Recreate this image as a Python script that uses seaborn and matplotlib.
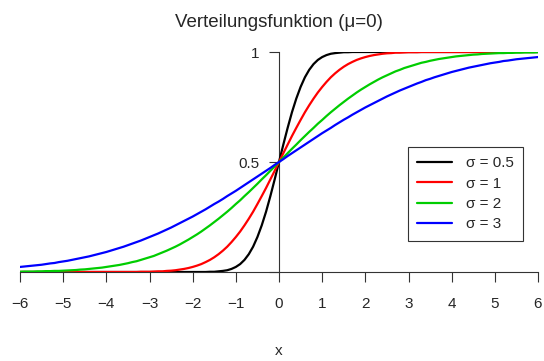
import numpy as np
import pandas as pd
import matplotlib
matplotlib.use("Agg")
import matplotlib.pyplot as plt
import seaborn as sns

# x from -6 to 6 in steps of 0.1 (rows below: one unit of x per row)
x_vals = np.round(np.linspace(-6, 6, 121), 1)

cdf_s05 = [
    0, 0, 0, 0, 0, 0, 0, 0, 0, 0,
    0, 0, 0, 0, 0, 0, 0, 0, 0, 0,
    0, 0, 0, 0, 0, 0, 0, 0, 0, 0,
    0, 0, 0, 0, 0, 0, 0, 0, 0, 0,
    0, 0, 0, 0, .001, .001, .003, .005, .008, .014,
    .023, .036, .055, .081, .115, .159, .212, .274, .345, .421,
    .500, .579, .655, .726, .788, .841, .885, .919, .945, .964,
    .977, .986, .992, .995, .997, .999, .999, 1, 1, 1,
    1, 1, 1, 1, 1, 1, 1, 1, 1, 1,
    1, 1, 1, 1, 1, 1, 1, 1, 1, 1,
    1, 1, 1, 1, 1, 1, 1, 1, 1, 1,
    1, 1, 1, 1, 1, 1, 1, 1, 1, 1,
    1,
]
cdf_s1 = [
    0, 0, 0, 0, 0, 0, 0, 0, 0, 0,
    0, 0, 0, 0, 0, 0, 0, 0, 0, 0,
    0, 0, 0, 0, 0, 0, 0, 0, .001, .001,
    .001, .002, .003, .003, .005, .006, .008, .011, .014, .018,
    .023, .029, .036, .045, .055, .067, .081, .097, .115, .136,
    .159, .184, .212, .242, .274, .309, .345, .382, .421, .460,
    .500, .540, .579, .618, .655, .691, .726, .758, .788, .816,
    .841, .864, .885, .903, .919, .933, .945, .955, .964, .971,
    .977, .982, .986, .989, .992, .994, .995, .997, .997, .998,
    .999, .999, .999, 1, 1, 1, 1, 1, 1, 1,
    1, 1, 1, 1, 1, 1, 1, 1, 1, 1,
    1, 1, 1, 1, 1, 1, 1, 1, 1, 1,
    1,
]
cdf_s2 = [
    .001, .002, .002, .002, .003, .003, .004, .004, .005, .005,
    .006, .007, .008, .009, .011, .012, .014, .016, .018, .020,
    .023, .026, .029, .032, .036, .040, .045, .049, .055, .061,
    .067, .073, .081, .089, .097, .106, .115, .125, .136, .147,
    .159, .171, .184, .198, .212, .227, .242, .258, .274, .291,
    .309, .326, .345, .363, .382, .401, .421, .440, .460, .480,
    .500, .520, .540, .560, .579, .599, .618, .637, .655, .674,
    .691, .709, .726, .742, .758, .773, .788, .802, .816, .829,
    .841, .853, .864, .875, .885, .894, .903, .912, .919, .927,
    .933, .939, .945, .951, .955, .960, .964, .968, .971, .974,
    .977, .980, .982, .984, .986, .988, .989, .991, .992, .993,
    .994, .995, .995, .996, .996, .997, .997, .998, .998, .998,
    .999,
]
cdf_s3 = [
    .023, .025, .027, .029, .031, .033, .036, .039, .041, .045,
    .048, .051, .055, .059, .063, .067, .071, .076, .081, .086,
    .091, .097, .103, .109, .115, .122, .129, .136, .143, .151,
    .159, .167, .175, .184, .193, .202, .212, .222, .232, .242,
    .252, .263, .274, .285, .297, .309, .320, .332, .345, .357,
    .369, .382, .395, .408, .421, .434, .447, .460, .473, .487,
    .500, .513, .527, .540, .553, .566, .579, .592, .605, .618,
    .631, .643, .655, .668, .680, .692, .703, .715, .726, .737,
    .748, .758, .768, .778, .788, .798, .807, .816, .825, .833,
    .841, .849, .857, .864, .872, .878, .885, .891, .897, .903,
    .909, .914, .919, .924, .929, .933, .937, .941, .945, .949,
    .952, .955, .959, .961, .964, .967, .969, .971, .973, .975,
    .977,
]

labels = ["σ = 0.5", "σ = 1", "σ = 2", "σ = 3"]
colors = ["#000000", "#FF0000", "#00CD00", "#0000FF"]
x_ticks = [-6, -5, -4, -3, -2, -1, 0, 1, 2, 3, 4, 5, 6]
y_ticks = [0, 0.5, 1]
y_ticklabels = ["", "0.5", "1"]

df = pd.concat([
    pd.DataFrame({"x": x_vals, "F": vals, "sigma": lab})
    for vals, lab in zip([cdf_s05, cdf_s1, cdf_s2, cdf_s3], labels)
])

sns.set_theme(style="white")
plt.rcParams["font.family"] = ["Liberation Sans", "DejaVu Sans"]

fig = plt.figure(figsize=(5.44, 3.61), dpi=100)
ax = fig.add_axes([20 / 544, 89 / 361, 518 / 544, 220 / 361])

sns.lineplot(data=df, x="x", y="F", hue="sigma", hue_order=labels,
             palette=colors, linewidth=1.6, ax=ax, legend=True, zorder=3)

ax.set_xlim(-6, 6)
ax.set_ylim(0, 1)
ax.patch.set_alpha(0)

for side in ["top", "right"]:
    ax.spines[side].set_visible(False)
ax.spines["left"].set_position(("data", 0))
ax.spines["left"].set_bounds(0, 1)
ax.spines["bottom"].set_bounds(-6, 6)
for side in ["left", "bottom"]:
    ax.spines[side].set_color("#333333")
    ax.spines[side].set_linewidth(0.8)

ax.set_xticks(x_ticks)
ax.set_yticks(y_ticks)
ax.set_yticklabels(y_ticklabels)
ax.tick_params(axis="x", direction="out", length=7, width=0.8, color="#333333",
               pad=11, labelsize=11, bottom=True)
ax.tick_params(axis="y", direction="out", length=7, width=0.8, color="#333333",
               pad=7, labelsize=11, left=True)

ax.set_xlabel("x", fontsize=11, labelpad=24)
ax.set_ylabel("")
ax.set_title("Verteilungsfunktion (μ=0)", fontsize=13.5, pad=18)

handles, labs = ax.get_legend_handles_labels()
leg = ax.legend(handles, labs, loc="upper right",
                bbox_to_anchor=(523 / 544, 1 - 147 / 361),
                bbox_transform=fig.transFigure, borderaxespad=0,
                fancybox=False, framealpha=1, edgecolor="#333333",
                fontsize=11, handlelength=2.3, handletextpad=0.9,
                labelspacing=0.42, borderpad=0.6)
leg.get_frame().set_linewidth(0.8)

fig.savefig("out.png", dpi=100)
